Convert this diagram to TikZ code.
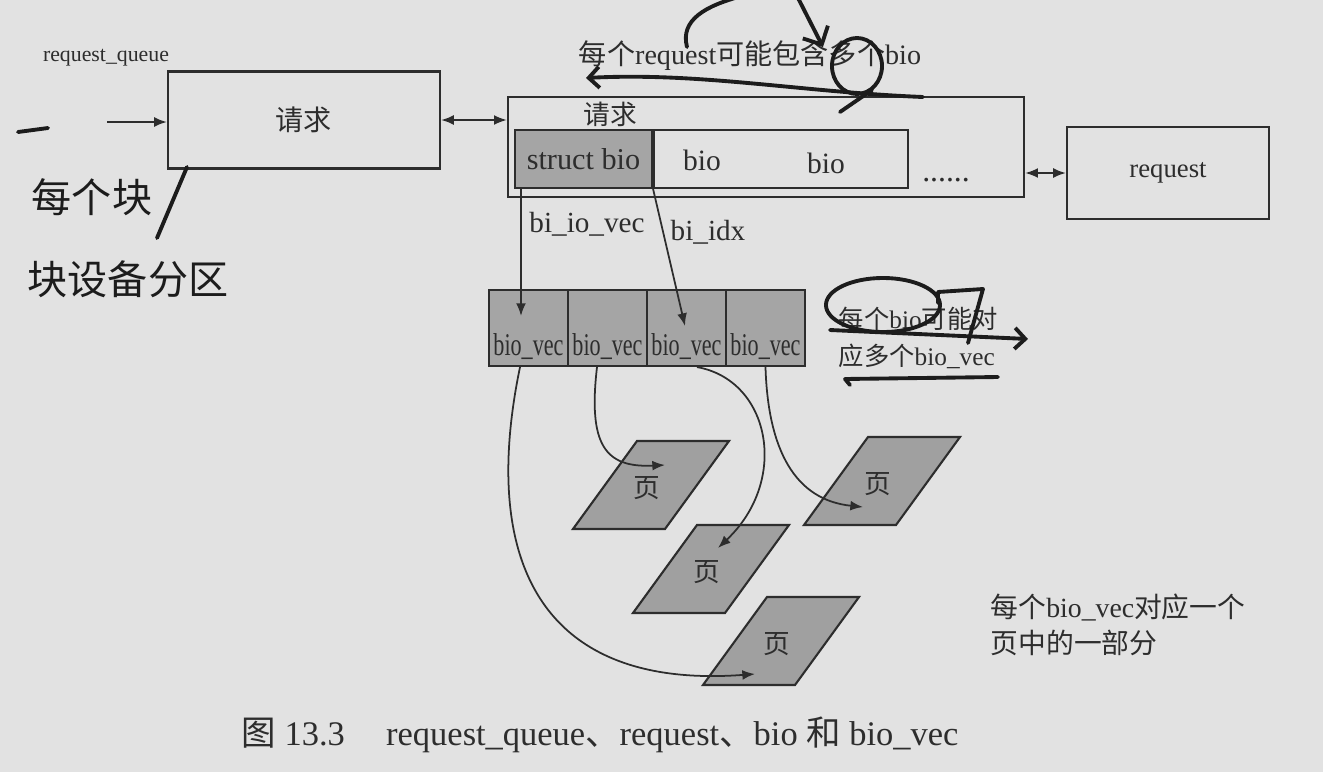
\documentclass[tikz,border=0pt]{standalone}
\usepackage{fontspec}
\setmainfont{Liberation Serif}
\newfontfamily\cjk{Noto Sans CJK SC}
\newfontfamily\narrowserif[FakeStretch=0.7]{Liberation Serif}
\usetikzlibrary{arrows.meta, calc, positioning}
\definecolor{paper}{RGB}{226,226,226}
\definecolor{ink}{RGB}{45,45,45}
\definecolor{penink}{RGB}{28,28,28}
\definecolor{cellgray}{RGB}{165,165,165}
\definecolor{pagegray}{RGB}{160,160,160}

\begin{document}
\begin{tikzpicture}[x=0.01cm, y=-0.01cm, color=ink,
    box/.style={draw=ink, line width=0.6pt, inner sep=0pt},
    cell/.style={box, fill=cellgray},
    vcell/.style={cell, minimum width=0.79cm, minimum height=0.76cm, text height=0.54cm, text depth=0pt, font=\fontsize{9}{10}\selectfont\narrowserif},
    arr/.style={draw=ink, line width=0.5pt, -{Latex[length=3.6pt,width=2.8pt]}},
    darr/.style={draw=ink, line width=0.5pt, {Latex[length=3.6pt,width=2.8pt]}-{Latex[length=3.6pt,width=2.8pt]}},
    pen/.style={draw=penink, line width=1.1pt, line cap=round, line join=round},
    hand/.style={text=penink, font=\fontsize{11.4}{12}\selectfont\cjk}]
    \fill[paper] (0,0) rectangle (1323,772);
    \useasboundingbox (0,0) rectangle (1323,772);

    % request queue
    \node[font=\fontsize{6.2}{7}\selectfont] (rqname) at (106,58) {request\_queue};
    \node[box, minimum width=2.72cm, minimum height=0.97cm, font=\fontsize{8}{9}\selectfont\cjk] (qreq) at (304,120) {请求};
    \coordinate (qin) at (107,122);
    \draw[arr] (qin) -- (qin -| qreq.west);

    % request with its bios
    \node[box, minimum width=5.16cm, minimum height=1.0cm] (req) at (766,147) {};
    \node[font=\fontsize{7.6}{9}\selectfont\cjk] (reqname) at (610,114) {请求};
    \node[cell, minimum width=1.37cm, minimum height=0.58cm, font=\fontsize{8.6}{10}\selectfont] (sbio) at (583.5,159) {struct bio};
    \node[box, minimum width=2.54cm, minimum height=0.58cm, anchor=west] (biorow) at (sbio.east) {};
    \node[font=\fontsize{8.4}{10}\selectfont] (bio1) at (702,160) {bio};
    \node[font=\fontsize{8.4}{10}\selectfont] (bio2) at (826,163) {bio};
    \node[font=\fontsize{9}{10}\selectfont] (more) at (946,180) {......};
    \node[box, minimum width=2.02cm, minimum height=0.92cm, font=\fontsize{7.6}{9}\selectfont] (nreq) at (1168,173) {request};
    \draw[darr] (qreq.east) -- (qreq.east -| req.west);
    \draw[darr] (req.east |- nreq.west) -- (nreq.west);

    \node[font=\fontsize{8}{9}\selectfont] (reqnote) at (750,56) {{\cjk 每个}request{\cjk 可能包含多个}bio};

    % bio_vec array
    \foreach \i in {1,...,4}
        \node[vcell] (v\i) at ({449.5+79*\i},328) {bio\_vec};
    \coordinate (vin1) at (521,316);
    \coordinate (vin3) at (685,326);
    \draw[arr] (vin1 |- sbio.south) -- (vin1);
    \draw[arr] (sbio.south east) -- (vin3);
    \node[font=\fontsize{8.3}{10}\selectfont] (iovec) at (587,224) {bi\_io\_vec};
    \node[font=\fontsize{8.3}{10}\selectfont] (idx) at (708,232) {bi\_idx};

    \node[anchor=west, align=left, inner sep=0pt, font=\fontsize{7.2}{10.5}\selectfont] (vecnote) at (838,338) {{\cjk 每个}bio{\cjk 可能对}\\{\cjk 应多个}bio\_vec};

    % pages
    \foreach \n/\x/\y in {pg1/651/485, pg2/882/481, pg3/711/569, pg4/781/641} {
        \filldraw[fill=pagegray, draw=ink, line width=0.6pt] (\x,\y) ++(-14,-44) -- ++(92,0) -- ++(-64,88) -- ++(-92,0) -- cycle;
        \node[font=\fontsize{7.6}{9}\selectfont\cjk] (\n) at (\x-4,\y+3) {页};
    }
    \coordinate (t1) at (665,465);
    \coordinate (t2) at (863,507);
    \coordinate (t3) at (718,548);
    \coordinate (t4) at (755,674);
    \draw[arr] ($(v1.south)+(-8.5,0)$) .. controls (480,560) and (540,690) .. (t4);
    \draw[arr] ($(v2.south)+(-10.5,0)$) .. controls (588,445) and (605,468) .. (t1);
    \draw[arr] ($(v3.south)+(10.5,0)$) .. controls (770,380) and (790,480) .. (t3);
    \draw[arr] (v4.south) .. controls (768,450) and (795,500) .. (t2);

    \node[anchor=west, align=left, inner sep=0pt, font=\fontsize{7.9}{10.2}\selectfont] (pagenote) at (990,625) {{\cjk 每个}bio\_vec{\cjk 对应一个}\\{\cjk 页中的一部分}};

    \node[font=\fontsize{9.8}{11}\selectfont] (caption) at (600,735) {{\cjk 图} 13.3\hspace{1.2em}request\_queue{\cjk 、}request{\cjk 、}bio {\cjk 和} bio\_vec};

    % pen marks
    \node[hand] (hand1) at (92,197) {每个块};
    \node[hand] (hand2) at (128,279) {块设备分区};
    \draw[pen] (18,132) -- (48,128);
    \draw[pen] (187,167) -- (157,238);
    \draw[pen] (687,47) .. controls (680,20) and (705,6) .. (742,-4);
    \draw[pen, -{Straight Barb[length=4pt]}] (797,-4) -- (823,47);
    \draw[pen, -{Straight Barb[length=3pt]}] (923,97) .. controls (800,92) and (700,72) .. (586,78);
    \draw[pen] (857,66) ellipse [x radius=0.25cm, y radius=0.28cm];
    \draw[pen] (872,90) -- (840,112);
    \draw[pen] (883,305) ellipse [x radius=0.57cm, y radius=0.27cm];
    \draw[pen, -{Straight Barb[length=3pt]}] (830,330) -- (1028,339);
    \draw[pen] (938,303) -- (938,292) -- (983,289) -- (968,343);
    \draw[pen] (850,385) -- (845,379) -- (998,377);
\end{tikzpicture}
\end{document}
